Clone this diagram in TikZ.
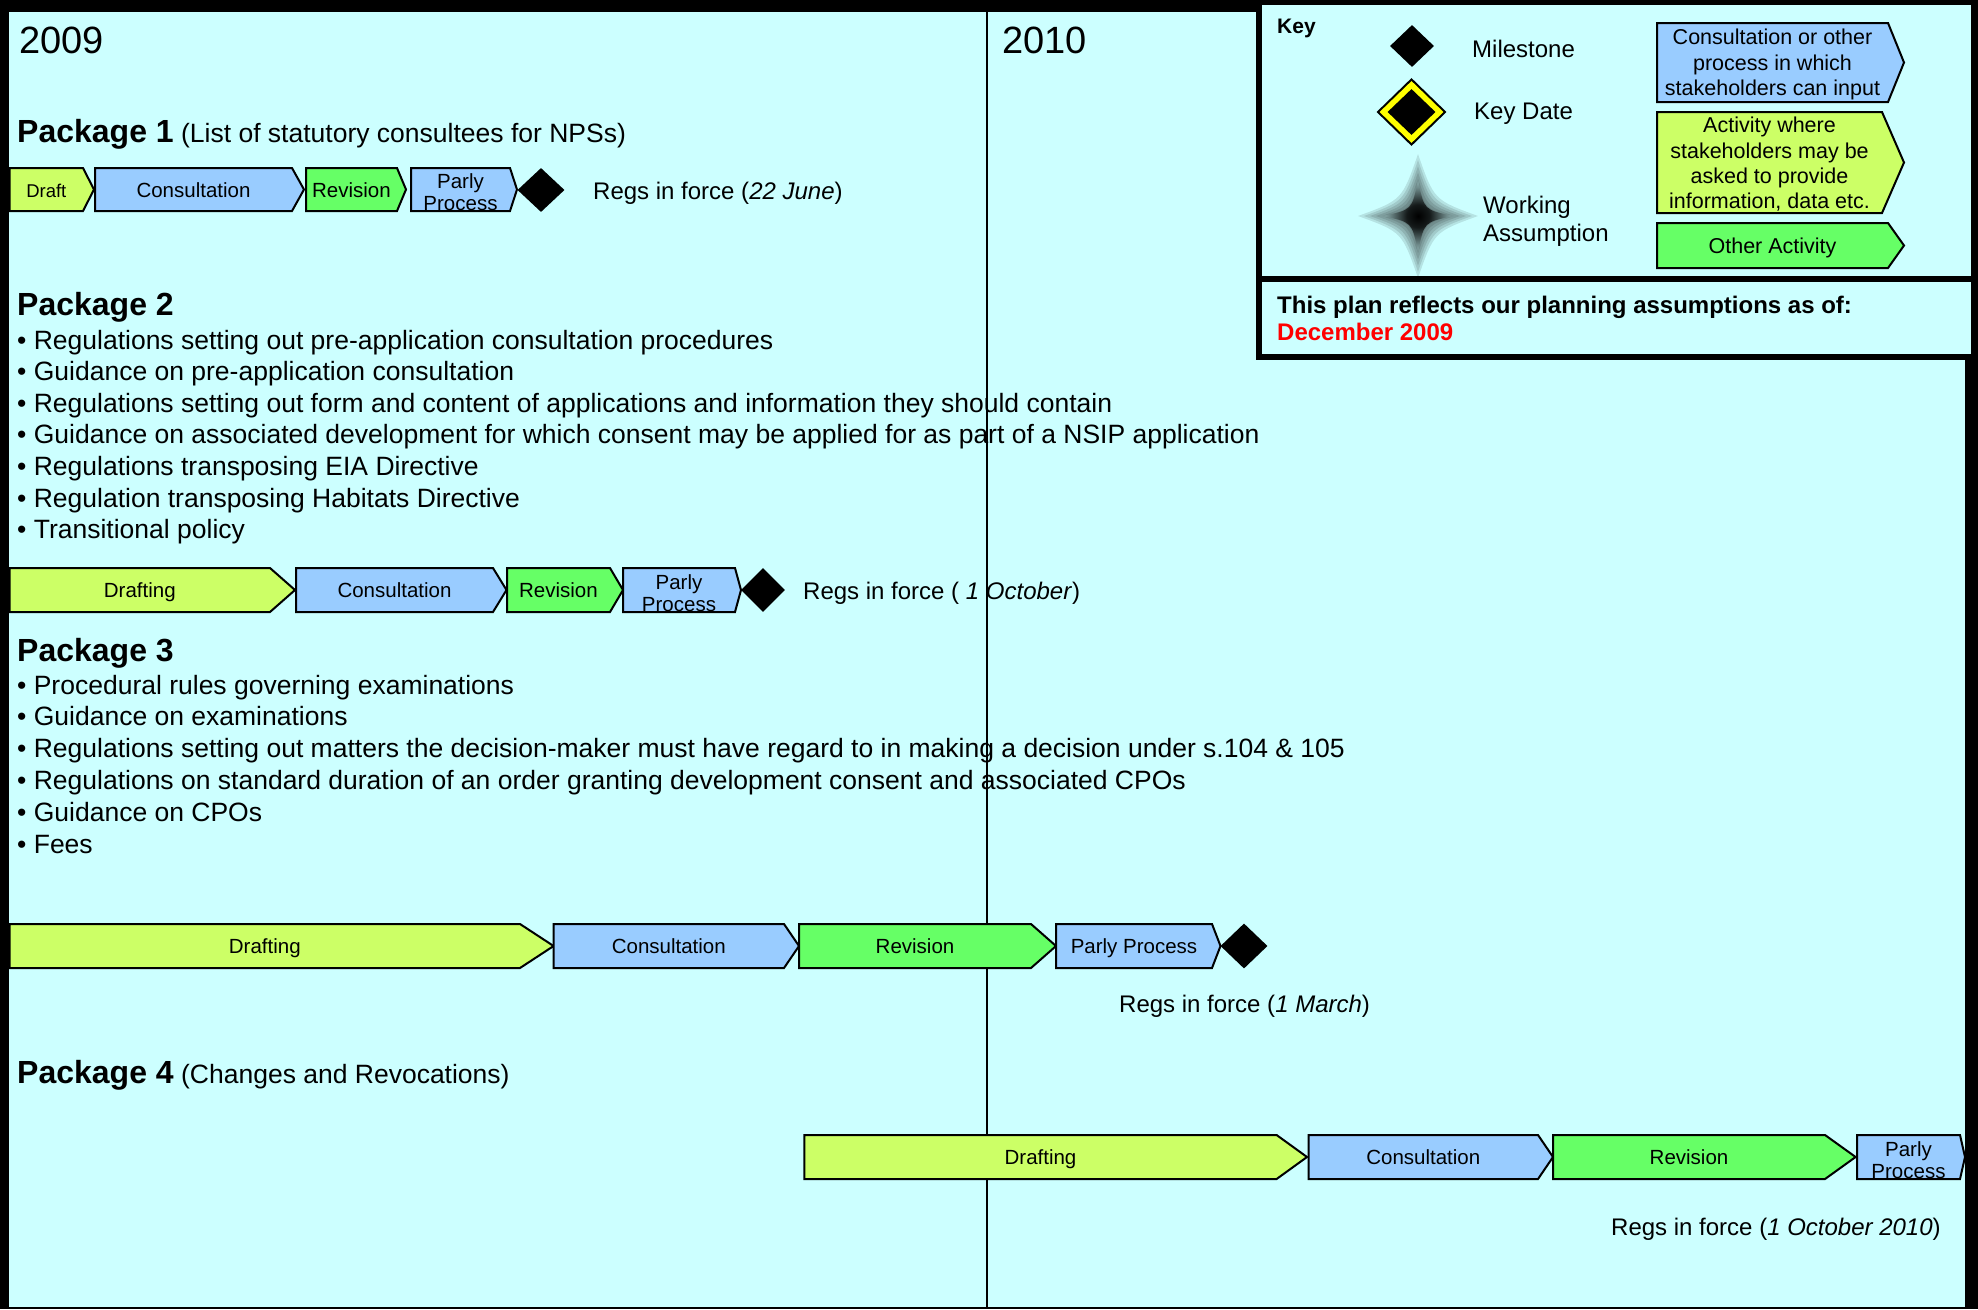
\documentclass[tikz,border=0pt]{standalone}
\usepackage{fontspec}
\setmainfont{Liberation Sans}
\usetikzlibrary{shapes.geometric}
\definecolor{bgc}{HTML}{CCFFFF}
\definecolor{cLime}{HTML}{CCFF66}
\definecolor{cBlue}{HTML}{99CCFF}
\definecolor{cGreen}{HTML}{66FF66}
\definecolor{cYel}{HTML}{FFFF00}
\pgfdeclareradialshading{glow}{\pgfpoint{0bp}{0bp}}{color(0bp)=(black); color(8bp)=(black!90!bgc); color(20bp)=(black!45!bgc); color(36bp)=(bgc); color(50bp)=(bgc)}
\tikzset{
  barline/.style={draw=black, line width=2pt, line join=miter},
  bartext/.style={inner sep=0pt, font=\fontsize{20.5}{22}\selectfont},
  oneline/.style={text height=15pt, text depth=0pt},
  twoline/.style={align=center, font=\fontsize{20.5}{22}\selectfont, yshift=-3pt},
  keyml/.style={align=center, font=\fontsize{21.5}{25.3}\selectfont, yshift=-2pt},
  year/.style={anchor=base west, inner sep=0pt, font=\fontsize{38}{40}\selectfont},
  txt/.style={anchor=base west, inner sep=0pt, font=\fontsize{26.5}{31}\selectfont},
  regs/.style={anchor=base west, inner sep=0pt, font=\fontsize{24}{26}\selectfont},
  keytxt/.style={anchor=base west, inner sep=0pt, font=\fontsize{24}{26}\selectfont},
  milestone/.style={diamond, fill=black, inner sep=0pt},
}
\newcommand\pkgname[1]{{\fontsize{32}{34}\selectfont\bfseries #1}}
\newcommand\chevbar[9][oneline]{%
  \filldraw[barline, fill=#8] (#3,#6) -- (#4,#6) -- (#5,{(#6+#7)/2}) -- (#4,#7) -- (#3,#7) -- cycle;
  \node[bartext, #1] (#2) at ({(#3+#4)/2},{(#6+#7)/2}) {#9};}
\begin{document}
\begin{tikzpicture}[x=1pt,y=-1pt]
\useasboundingbox (0,0) rectangle (1978,1309);
% frame and background
\fill[black] (0,0) rectangle (1978,1309);
\fill[bgc] (9,12) rectangle (1965,1306.5);
% year divider
\coordinate (ytop) at (987,12);
\coordinate (ybot) at (987,1306.5);
\draw[line width=1.6pt] (ytop) -- (ybot);
\node[year] (y09) at (19,53) {2009};
\node[year] (y10) at (1002,53) {2010};

% Package 1
\node[txt] (h1) at (17,142) {\pkgname{Package 1} (List of statutory consultees for NPSs)};
\chevbar[oneline, font=\fontsize{18.5}{20}\selectfont]{d1}{9.6}{83}{94}{168}{211}{cLime}{Draft}
\chevbar{c1}{95}{292}{304}{168}{211}{cBlue}{Consultation}
\chevbar{r1}{306}{397}{406}{168}{211}{cGreen}{Revision}
\chevbar[twoline]{p1}{411}{510}{517}{168}{211}{cBlue}{Parly\\Process}
\node[milestone, minimum width=47pt, minimum height=44pt] (m1) at (541,190) {};
\node[regs] (t1) at (593,199) {Regs in force (\textit{22 June})};

% Package 2
\node[txt] (h2) at (17,315) {\pkgname{Package 2}};
\foreach \t [count=\i] in {
  Regulations setting out pre-application consultation procedures,
  Guidance on pre-application consultation,
  Regulations setting out form and content of applications and information they should contain,
  Guidance on associated development for which consent may be applied for as part of a NSIP application,
  Regulations transposing EIA Directive,
  Regulation transposing Habitats Directive,
  Transitional policy}
  \node[txt] (b2-\i) at (17,{349+(\i-1)*31.65}) {\textbullet\ \t};
\chevbar{d2}{9.6}{270}{295}{568}{612}{cLime}{Drafting}
\chevbar{c2}{296}{493}{506.5}{568}{612}{cBlue}{Consultation}
\chevbar{r2}{507}{610}{623}{568}{612}{cGreen}{Revision}
\chevbar[twoline]{p2}{623}{735}{741}{568}{612}{cBlue}{Parly\\Process}
\node[milestone, minimum width=44pt, minimum height=44pt] (m2) at (763,590) {};
\node[regs] (t2) at (803,599.5) {Regs in force ( \textit{1 October})};

% Package 3
\node[txt] (h3) at (17,661.5) {\pkgname{Package 3}};
\foreach \t [count=\i] in {
  Procedural rules governing examinations,
  Guidance on examinations,
  Regulations setting out matters the decision-maker must have regard to in making a decision under s.104 \& 105,
  Regulations on standard duration of an order granting development consent and associated CPOs,
  Guidance on CPOs,
  Fees}
  \node[txt] (b3-\i) at (17,{694+(\i-1)*31.8}) {\textbullet\ \t};
\chevbar{d3}{9.6}{520}{553.6}{924}{968}{cLime}{Drafting}
\chevbar{c3}{553.6}{784}{799}{924}{968}{cBlue}{Consultation}
\chevbar{r3}{799}{1031}{1056}{924}{968}{cGreen}{Revision}
\chevbar{p3}{1056}{1212}{1220.5}{924}{968}{cBlue}{Parly Process}
\node[milestone, minimum width=47pt, minimum height=45pt] (m3) at (1244,946) {};
\node[regs] (t3) at (1119,1012.5) {Regs in force (\textit{1 March})};

% Package 4
\node[txt] (h4) at (17,1083.5) {\pkgname{Package 4} (Changes and Revocations)};
\chevbar{d4}{804.4}{1276.6}{1307}{1135}{1179}{cLime}{Drafting}
\chevbar{c4}{1308.6}{1538}{1553}{1135}{1179}{cBlue}{Consultation}
\chevbar{r4}{1553}{1825}{1855.6}{1135}{1179}{cGreen}{Revision}
\chevbar[twoline]{p4}{1857}{1960}{1965}{1135}{1179}{cBlue}{Parly\\Process}
\node[regs] (t4) at (1611,1235.5) {Regs in force (\textit{1 October 2010})};

% Key box
\fill[black] (1256,0) rectangle (1976,360);
\fill[bgc] (1262,5) rectangle (1971,276);
\fill[bgc] (1262,282) rectangle (1971,354);
\node[anchor=base west, inner sep=0pt, font=\fontsize{21}{23}\selectfont\bfseries] (key) at (1277,33) {Key};
\node[milestone, minimum width=44pt, minimum height=42pt] (kms) at (1412,46) {};
\node[keytxt] (kmst) at (1472,57.3) {Milestone};
\node[milestone, minimum width=70pt, minimum height=68pt] (kkd0) at (1411.5,112) {};
\node[diamond, fill=cYel, inner sep=0pt, minimum width=64pt, minimum height=62pt] (kkd1) at (1411.5,112) {};
\node[milestone, minimum width=48pt, minimum height=46pt] (kkd) at (1411.5,112) {};
\node[keytxt] (kkdt) at (1474,119.3) {Key Date};
% working assumption: blurred four-point star
\foreach \s in {1.0,0.9,0.8,0.7,0.6,0.5,0.4,0.3} {
  \fill[black, fill opacity=0.11]
    (1418,{216-62*\s}) .. controls ({1418+16*\s},{216-16*\s}) .. ({1418+60*\s},216)
    .. controls ({1418+16*\s},{216+16*\s}) .. (1418,{216+62*\s})
    .. controls ({1418-16*\s},{216+16*\s}) .. ({1418-60*\s},216)
    .. controls ({1418-16*\s},{216-16*\s}) .. (1418,{216-62*\s}) -- cycle;
}
\shade[shading=glow] (1418,180) .. controls (1424,210) .. (1454,216) .. controls (1424,222) .. (1418,252) .. controls (1412,222) .. (1382,216) .. controls (1412,210) .. (1418,180) -- cycle;
\node[keytxt] (kwa1) at (1483,213.3) {Working};
\node[keytxt] (kwa2) at (1483,241.7) {Assumption};
\chevbar[keyml]{kc}{1657}{1888}{1904}{23}{102}{cBlue}{Consultation or other\\process in which\\stakeholders can input}
\chevbar[keyml]{ka}{1657}{1882}{1904}{112}{213}{cLime}{Activity where\\stakeholders may be\\asked to provide\\information, data etc.}
\chevbar[oneline, font=\fontsize{21.5}{23}\selectfont]{ko}{1657}{1888}{1904}{223}{268}{cGreen}{Other Activity}
\node[anchor=base west, inner sep=0pt, font=\fontsize{24}{26}\selectfont\bfseries] (plan) at (1277,313) {This plan reflects our planning assumptions as of:};
\node[anchor=base west, inner sep=0pt, font=\fontsize{24}{26}\selectfont\bfseries, text=red] (pdate) at (1277,340.5) {December 2009};
\end{tikzpicture}
\end{document}
